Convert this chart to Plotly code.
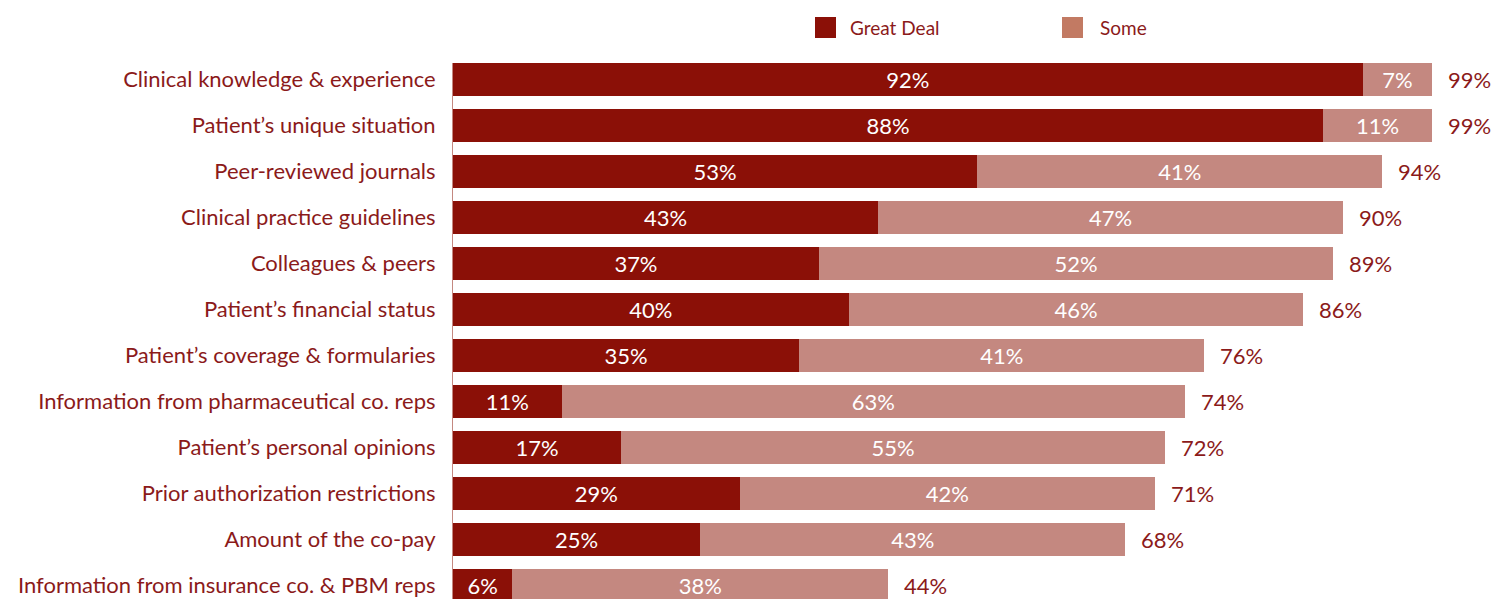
import plotly.graph_objects as go

categories = [
    "Clinical knowledge & experience",
    "Patient’s unique situation",
    "Peer-reviewed journals",
    "Clinical practice guidelines",
    "Colleagues & peers",
    "Patient’s financial status",
    "Patient’s coverage & formularies",
    "Information from pharmaceutical co. reps",
    "Patient’s personal opinions",
    "Prior authorization restrictions",
    "Amount of the co-pay",
    "Information from insurance co. & PBM reps",
]
great_deal = [92, 88, 53, 43, 37, 40, 35, 11, 17, 29, 25, 6]
some = [7, 11, 41, 47, 52, 46, 41, 63, 55, 42, 43, 38]
totals = [99, 99, 94, 90, 89, 86, 76, 74, 72, 71, 68, 44]
series_names = ["Great Deal", "Some"]

DARK = "#8B1007"
LIGHT = "#C48880"
LEG_LIGHT = "#C27A63"
TEXT = "#8B1A1A"
FONT = "Lato, 'Open Sans', sans-serif"

W, H = 1496, 599
ML, MR, MT, MB = 453, 0, 63, 0
ROW = 46.0          # pixels per category row
BARGAP = 0.283

fig = go.Figure()
fig.add_trace(go.Bar(
    y=categories, x=great_deal, orientation="h", name=series_names[0],
    marker=dict(color=DARK, line=dict(width=0)),
    text=[f"{v}%" for v in great_deal], textposition="inside",
    insidetextanchor="middle",
    textfont=dict(color="white", size=22, family=FONT),
    showlegend=False,
))
fig.add_trace(go.Bar(
    y=categories, x=some, orientation="h", name=series_names[1],
    marker=dict(color=LIGHT, line=dict(width=0)),
    text=[f"{v}%" for v in some], textposition="inside",
    insidetextanchor="middle",
    textfont=dict(color="white", size=22, family=FONT),
    showlegend=False,
))

for cat, t in zip(categories, totals):
    fig.add_annotation(x=t, y=cat, text=f"{t}%", showarrow=False,
                       xanchor="left", yanchor="middle", xshift=14,
                       font=dict(color=TEXT, size=22, family=FONT))

# manual legend (pixel positions converted to paper coords)
pw = W - ML - MR
ph = H - MT - MB
def px(x):
    return (x - ML) / pw
def py(y):
    return (H - MB - y) / ph

legend_items = [(series_names[0], DARK, 815, 33), (series_names[1], LEG_LIGHT, 1062, 36)]
for name, col, x0, gap in legend_items:
    fig.add_shape(type="rect", xref="paper", yref="paper",
                  x0=px(x0), x1=px(x0 + 21), y0=py(38), y1=py(17),
                  fillcolor=col, line=dict(width=0))
    fig.add_annotation(xref="paper", yref="paper", x=px(x0 + gap), y=py(28),
                       text=name, showarrow=False, xanchor="left", yanchor="middle",
                       font=dict(color=TEXT, size=19, family=FONT))

top = -(1 - BARGAP) / 2
fig.update_layout(
    width=W, height=H,
    margin=dict(l=ML, r=MR, t=MT, b=MB, pad=0),
    barmode="stack", bargap=BARGAP,
    plot_bgcolor="white", paper_bgcolor="white",
    font=dict(family=FONT, color=TEXT, size=22),
    xaxis=dict(range=[0, pw / 9.888], visible=False, fixedrange=True),
    yaxis=dict(range=[top + ph / ROW, top], type="category",
               showgrid=False, zeroline=False, fixedrange=True,
               showline=True, linecolor=LIGHT, linewidth=1,
               ticks="", ticklabelstandoff=12,
               tickfont=dict(size=22, color=TEXT, family=FONT)),
    showlegend=False,
)

fig.write_html(
    "out.html",
    config={"displayModeBar": False},
    post_script="document.body.style.margin='0';document.body.style.overflow='hidden';",
)
